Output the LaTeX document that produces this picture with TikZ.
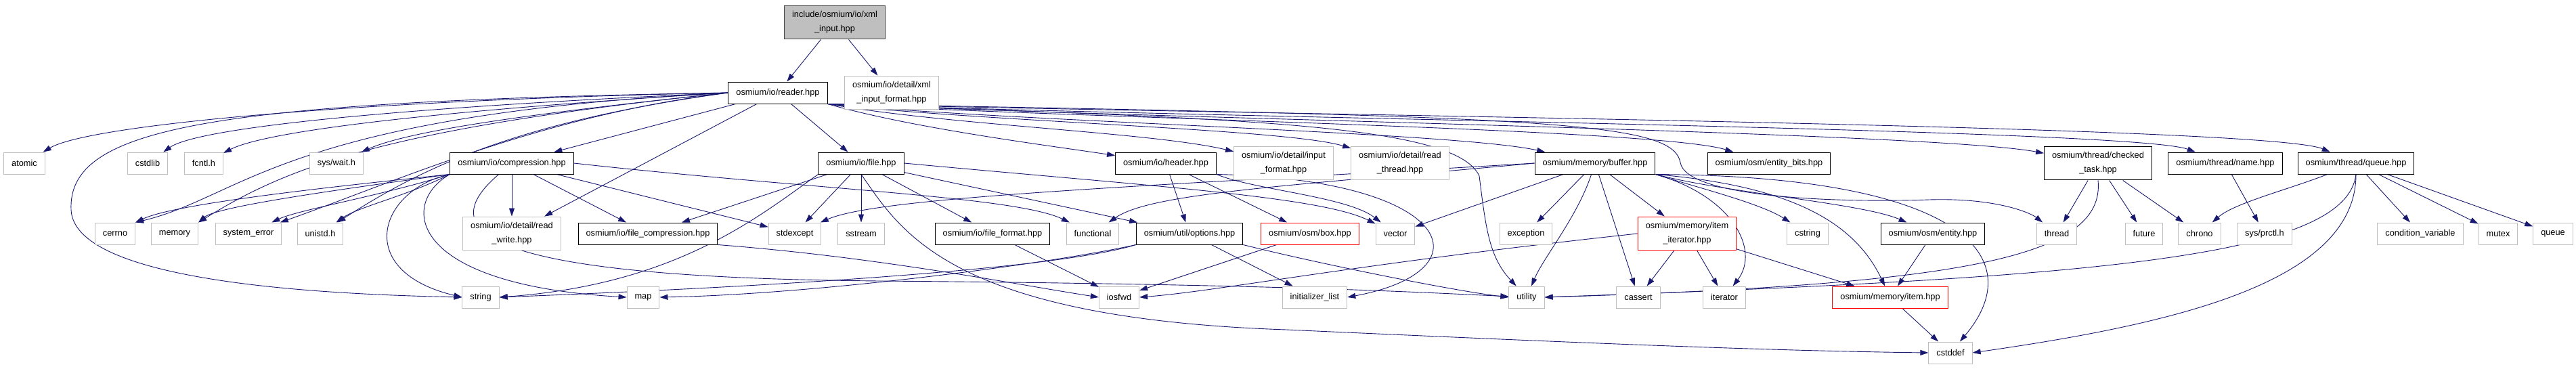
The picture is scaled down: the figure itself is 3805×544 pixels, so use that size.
\documentclass[tikz,border=0pt]{standalone}
\usepackage{fontspec}
\setmainfont{Liberation Sans}
\usetikzlibrary{arrows.meta,backgrounds}
\definecolor{igedge}{HTML}{191970}
\definecolor{igleafline}{HTML}{BFBFBF}
\definecolor{igrootfill}{HTML}{BFBFBF}
\definecolor{igrootline}{HTML}{404040}
\tikzset{
  igbox/.style={draw=black, line width=1pt, align=center, fill=white,
    font=\fontsize{12.8}{21}\selectfont, inner xsep=11.5pt, inner ysep=8.5pt, minimum height=32pt},
  igleaf/.style={igbox, draw=igleafline},
  igred/.style={igbox, draw=red},
  igroot/.style={igbox, draw=igrootline, fill=igrootfill},
  igarrow/.style={-{Triangle[length=12pt,width=8pt]}, line width=0.9pt, draw=igedge}
}

\begin{document}
\begin{tikzpicture}[x=1pt, y=-1pt]
  \useasboundingbox (0,0) rectangle (3805,544);
  % top two rows
  \node[igroot] (xmlin) at (1233,33) {include/osmium/io/xml\\\_input.hpp};
  \node[igbox] (reader) at (1149,137) {osmium/io/reader.hpp};
  \node[igleaf] (xmlfmt) at (1317,137) {osmium/io/detail/xml\\\_input\_format.hpp};
  % third row
  \node[igleaf] (atomic) at (36,241) {atomic};
  \node[igleaf] (cstdlib) at (218,241) {cstdlib};
  \node[igleaf] (fcntl) at (301,241) {fcntl.h};
  \node[igleaf] (syswait) at (497,241) {sys/wait.h};
  \node[igbox] (compr) at (756,241) {osmium/io/compression.hpp};
  \node[igbox] (file) at (1272,241) {osmium/io/file.hpp};
  \node[igbox] (header) at (1722,241) {osmium/io/header.hpp};
  \node[igleaf] (inputfmt) at (1896,241) {osmium/io/detail/input\\\_format.hpp};
  \node[igleaf] (readthr) at (2068,241) {osmium/io/detail/read\\\_thread.hpp};
  \node[igbox] (buffer) at (2356,241) {osmium/memory/buffer.hpp};
  \node[igbox] (entbits) at (2613,241) {osmium/osm/entity\_bits.hpp};
  \node[igbox] (checked) at (3099,241) {osmium/thread/checked\\\_task.hpp};
  \node[igbox] (tname) at (3287,241) {osmium/thread/name.hpp};
  \node[igbox] (tqueue) at (3480,241) {osmium/thread/queue.hpp};
  % fourth row
  \node[igleaf] (cerrno) at (170,345) {cerrno};
  \node[igleaf] (memory) at (258,345) {memory};
  \node[igleaf] (syserr) at (367,345) {system\_error};
  \node[igleaf] (unistd) at (473,345) {unistd.h};
  \node[igleaf] (readwrite) at (756,345) {osmium/io/detail/read\\\_write.hpp};
  \node[igbox] (filecompr) at (957,345) {osmium/io/file\_compression.hpp};
  \node[igleaf] (stdexcept) at (1174,345) {stdexcept};
  \node[igleaf] (sstream) at (1272,345) {sstream};
  \node[igbox] (fileformat) at (1466,345) {osmium/io/file\_format.hpp};
  \node[igleaf] (functional) at (1614,345) {functional};
  \node[igbox] (options) at (1757,345) {osmium/util/options.hpp};
  \node[igred] (box) at (1935,345) {osmium/osm/box.hpp};
  \node[igleaf] (vector) at (2061,345) {vector};
  \node[igleaf] (exception) at (2254,345) {exception};
  \node[igred] (itemiter) at (2492,345) {osmium/memory/item\\\_iterator.hpp};
  \node[igleaf] (cstring) at (2670,345) {cstring};
  \node[igbox] (entity) at (2855,345) {osmium/osm/entity.hpp};
  \node[igleaf] (thread) at (3038,345) {thread};
  \node[igleaf] (future) at (3167,345) {future};
  \node[igleaf] (chrono) at (3249,345) {chrono};
  \node[igleaf] (prctl) at (3345,345) {sys/prctl.h};
  \node[igleaf] (condvar) at (3575,345) {condition\_variable};
  \node[igleaf] (mutex) at (3690,345) {mutex};
  \node[igleaf] (queue) at (3771,345) {queue};
  % bottom rows
  \node[igleaf] (string) at (710,439) {string};
  \node[igleaf] (map) at (950,439) {map};
  \node[igleaf] (iosfwd) at (1653,439) {iosfwd};
  \node[igleaf] (initlist) at (1942,439) {initializer\_list};
  \node[igleaf] (utility) at (2255,439) {utility};
  \node[igleaf] (cassert) at (2420,439) {cassert};
  \node[igleaf] (iterator) at (2547,439) {iterator};
  \node[igred] (item) at (2792,439) {osmium/memory/item.hpp};
  \node[igleaf] (cstddef) at (2881,521) {cstddef};

  \begin{scope}[on background layer]
  % xml_input.hpp
  \draw[igarrow] (xmlin) -- (reader);
  \draw[igarrow] (xmlin) -- (xmlfmt);
  % reader.hpp
  \draw[igarrow] (reader.west) .. controls (520,148) and (130,185) .. (atomic);
  \draw[igarrow] (reader.west) .. controls (560,160) and (290,190) .. (cstdlib);
  \draw[igarrow] (reader.west) .. controls (620,165) and (390,195) .. (fcntl);
  \draw[igarrow] (reader.west) .. controls (760,170) and (600,195) .. (syswait);
  \draw[igarrow] (reader.west) .. controls (420,170) and (360,290) .. (cerrno.north east);
  \draw[igarrow] (reader.west) .. controls (560,190) and (420,250) .. (memory.north east);
  \draw[igarrow] (reader.west) .. controls (800,170) and (580,270) .. (syserr);
  \draw[igarrow] (reader.west) .. controls (760,180) and (620,250) .. (unistd);
  \draw[igarrow] (reader.west) .. controls (300,150) and (100,190) .. (105,310)
    .. controls (110,420) and (500,435) .. (string.west);
  \draw[igarrow] (reader) -- (compr);
  \draw[igarrow] (reader) -- (readwrite);
  \draw[igarrow] (reader) -- (file);
  \draw[igarrow] (reader.south east) .. controls (1350,190) and (1550,215) .. (header);
  \draw[igarrow] (reader.south east) .. controls (1400,185) and (1700,195) .. (inputfmt);
  \draw[igarrow] (reader.south east) .. controls (1450,180) and (1900,190) .. (readthr);
  \draw[igarrow] (reader.south east) .. controls (1500,180) and (2150,195) .. (buffer);
  \draw[igarrow] (reader.south east) .. controls (1600,175) and (2450,190) .. (entbits);
  \draw[igarrow] (reader.south east) .. controls (1700,175) and (2850,195) .. (checked);
  \draw[igarrow] (reader.south east) .. controls (1800,175) and (3150,190) .. (tname);
  \draw[igarrow] (reader.south east) .. controls (1900,170) and (3350,185) .. (tqueue);
  \draw[igarrow] (reader.south east) .. controls (1800,175) and (2150,180) .. (2185,260)
    .. controls (2195,340) and (2200,380) .. (utility);
  \draw[igarrow] (reader.south east) .. controls (2300,172) and (2470,180) .. (2482,240)
    .. controls (2490,290) and (2700,300) .. (2850,295)
    .. controls (2950,292) and (3000,315) .. (thread);
  % compression.hpp
  \draw[igarrow] (compr.south west) .. controls (500,275) and (260,300) .. (cerrno.north east);
  \draw[igarrow] (compr.south west) .. controls (500,280) and (320,305) .. (memory.north east);
  \draw[igarrow] (compr.south west) .. controls (560,290) and (440,310) .. (syserr);
  \draw[igarrow] (compr.south west) .. controls (600,290) and (530,305) .. (unistd);
  \draw[igarrow] (compr.south west) .. controls (560,280) and (520,400) .. (string.west);
  \draw[igarrow] (compr.south west) .. controls (590,300) and (600,420) .. (map.west);
  \draw[igarrow] (compr) .. controls (640,340) and (700,410) .. (1300,415)
    .. controls (1900,420) and (2100,432) .. (utility);
  \draw[igarrow] (compr) -- (readwrite);
  \draw[igarrow] (compr) -- (filecompr);
  \draw[igarrow] (compr) -- (stdexcept);
  \draw[igarrow] (compr.east) .. controls (1200,280) and (1500,290) .. (functional);
  % file.hpp
  \draw[igarrow] (file) -- (filecompr);
  \draw[igarrow] (file) -- (stdexcept);
  \draw[igarrow] (file) -- (sstream);
  \draw[igarrow] (file) -- (fileformat);
  \draw[igarrow] (file) -- (options);
  \draw[igarrow] (file.east) .. controls (1700,275) and (1950,290) .. (vector);
  \draw[igarrow] (file.south west) .. controls (1120,320) and (1000,420) .. (string.east);
  \draw[igarrow] (file.south) .. controls (1330,340) and (1400,470) .. (1900,487)
    .. controls (2300,505) and (2600,518) .. (cstddef.west);
  % header.hpp
  \draw[igarrow] (header) -- (options);
  \draw[igarrow] (header) -- (box);
  \draw[igarrow] (header.south east) .. controls (1850,280) and (1990,290) .. (vector);
  \draw[igarrow] (header.south east) .. controls (2150,265) and (2200,400) .. (initlist.east);
  % options.hpp and others
  \draw[igarrow] (options.south west) .. controls (1550,400) and (1100,425) .. (string.east);
  \draw[igarrow] (options.south west) .. controls (1550,390) and (1200,435) .. (map.east);
  \draw[igarrow] (options) -- (initlist);
  \draw[igarrow] (options.south east) .. controls (1950,390) and (2150,430) .. (utility.west);
  \draw[igarrow] (fileformat) -- (iosfwd);
  \draw[igarrow] (box) -- (iosfwd);
  \draw[igarrow] (filecompr.south east) .. controls (1300,380) and (1500,420) .. (iosfwd.west);
  % buffer.hpp
  \draw[igarrow] (buffer.west) .. controls (1900,275) and (1700,285) .. (functional);
  \draw[igarrow] (buffer.west) .. controls (1700,275) and (1300,290) .. (stdexcept);
  \draw[igarrow] (buffer) -- (vector);
  \draw[igarrow] (buffer) -- (exception);
  \draw[igarrow] (buffer) .. controls (2330,320) and (2280,380) .. (utility);
  \draw[igarrow] (buffer) -- (cassert);
  \draw[igarrow] (buffer) -- (itemiter);
  \draw[igarrow] (buffer.south east) .. controls (2560,290) and (2600,370) .. (iterator);
  \draw[igarrow] (buffer.south east) .. controls (2500,275) and (2600,300) .. (cstring);
  \draw[igarrow] (buffer.south east) .. controls (2550,285) and (2750,300) .. (entity);
  \draw[igarrow] (buffer.south east) .. controls (2650,275) and (2740,330) .. (item);
  \draw[igarrow] (buffer.south east) .. controls (2900,260) and (3000,380) .. (cstddef);
  % memory/item
  \draw[igarrow] (itemiter.west) .. controls (2000,390) and (1800,430) .. (iosfwd.east);
  \draw[igarrow] (itemiter) -- (cassert);
  \draw[igarrow] (itemiter) -- (iterator);
  \draw[igarrow] (itemiter) -- (item);
  \draw[igarrow] (entity) -- (item);
  \draw[igarrow] (item) -- (cstddef);
  % thread headers
  \draw[igarrow] (checked) -- (thread);
  \draw[igarrow] (checked) -- (future);
  \draw[igarrow] (checked) -- (chrono);
  \draw[igarrow] (checked.south) .. controls (3110,380) and (2900,420) .. (utility.east);
  \draw[igarrow] (tname) -- (prctl);
  \draw[igarrow] (tqueue) .. controls (3380,280) and (3300,300) .. (chrono);
  \draw[igarrow] (tqueue) -- (condvar);
  \draw[igarrow] (tqueue) -- (mutex);
  \draw[igarrow] (tqueue) -- (queue);
  \draw[igarrow] (tqueue.south) .. controls (3465,380) and (3100,410) .. (utility.east);
  \draw[igarrow] (tqueue.south) .. controls (3480,420) and (3200,480) .. (cstddef.east);
  \end{scope}
\end{tikzpicture}
\end{document}
